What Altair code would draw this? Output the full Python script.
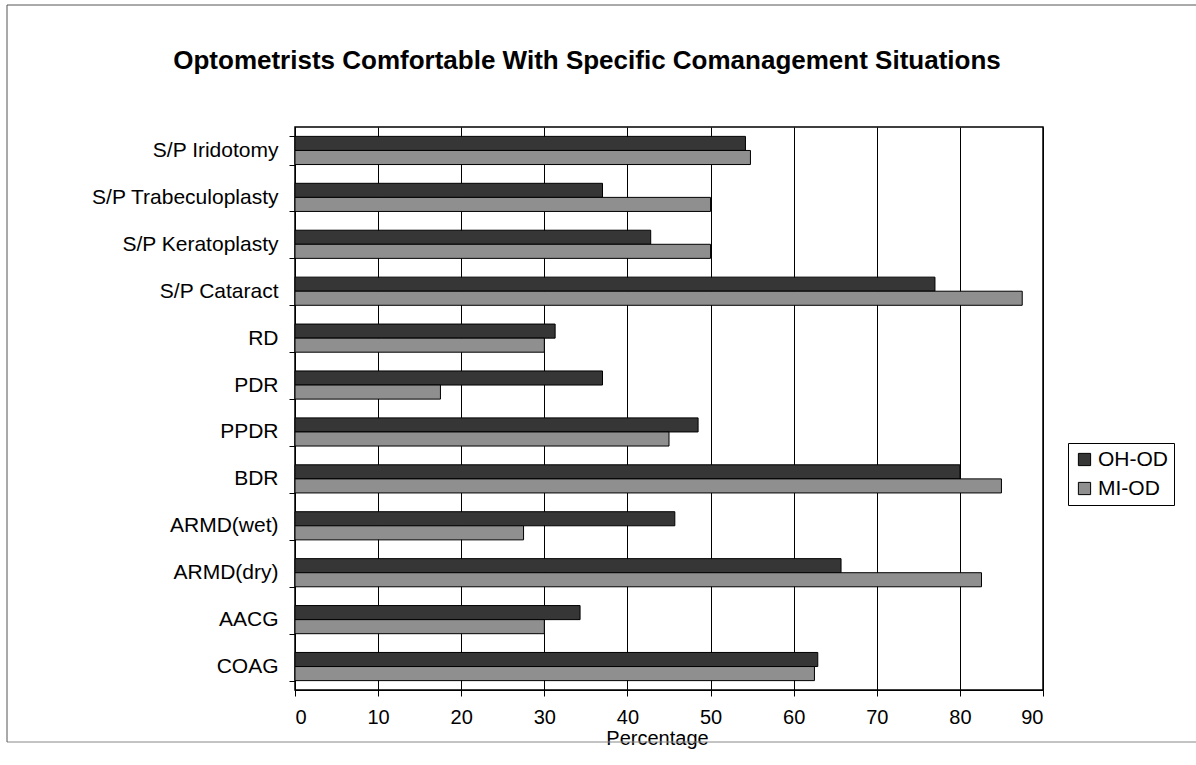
import altair as alt
import pandas as pd

# Comanagement situations, top to bottom as listed on the axis
situations = [
    "S/P Iridotomy", "S/P Trabeculoplasty", "S/P Keratoplasty", "S/P Cataract",
    "RD", "PDR", "PPDR", "BDR", "ARMD(wet)", "ARMD(dry)", "AACG", "COAG",
]
series = ["OH-OD", "MI-OD"]

# Percentage of optometrists comfortable, per group
oh_od = [54.2, 37.0, 42.8, 77.0, 31.3, 37.0, 48.5, 80.0, 45.7, 65.7, 34.3, 62.9]
mi_od = [54.8, 50.0, 50.0, 87.5, 30.0, 17.5, 45.0, 85.0, 27.5, 82.6, 30.0, 62.5]

x_ticks = [0, 10, 20, 30, 40, 50, 60, 70, 80, 90]

rows = []
for s, a, b in zip(situations, oh_od, mi_od):
    rows.append({"situation": s, "group": "OH-OD", "pct": a})
    rows.append({"situation": s, "group": "MI-OD", "pct": b})
df = pd.DataFrame(rows)

FONT = "Liberation Sans"
W, H = 748, 563

bars = alt.Chart(df).mark_bar(stroke="black", strokeWidth=1).encode(
    y=alt.Y(
        "situation:N",
        sort=situations,
        title=None,
        scale=alt.Scale(paddingInner=0.4, paddingOuter=0.2),
        axis=alt.Axis(
            tickBand="extent", tickSize=6, labelPadding=11, grid=False,
            labelFont=FONT, labelFontSize=21, labelColor="black",
            labelLimit=320,
            domainColor="black", tickColor="black",
        ),
    ),
    yOffset=alt.YOffset("group:N", sort=series),
    x=alt.X(
        "pct:Q",
        title="Percentage",
        scale=alt.Scale(domain=[0, 90], nice=False),
        axis=alt.Axis(
            values=x_ticks, tickSize=6, labelPadding=11, grid=True,
            gridColor="black", gridWidth=1, gridOpacity=1,
            labelFont=FONT, labelFontSize=20, labelColor="black",
            titleFont=FONT, titleFontSize=20, titleFontWeight="normal",
            titleColor="black", titlePadding=1, titleX=362,
            domainColor="black", tickColor="black",
        ),
    ),
    color=alt.Color(
        "group:N",
        sort=series,
        scale=alt.Scale(domain=series, range=["#363636", "#8f8f8f"]),
        legend=alt.Legend(
            title=None, orient="none", legendX=773, legendY=316,
            symbolType="square", symbolSize=150, symbolStrokeColor="black",
            symbolStrokeWidth=1, symbolOpacity=1,
            labelFont=FONT, labelFontSize=21, labelColor="black",
            strokeColor="black", fillColor="white", padding=6,
            rowPadding=7, labelOffset=3,
        ),
    ),
)

# thin frame around the whole figure
frame_top = alt.Chart().mark_rule(color="#555", strokeWidth=1).encode(
    x=alt.value(-288), x2=alt.value(901), y=alt.value(-122)
)
frame_bottom = alt.Chart().mark_rule(color="#888", strokeWidth=1).encode(
    x=alt.value(-288), x2=alt.value(901), y=alt.value(615)
)
frame_left = alt.Chart().mark_rule(color="#555", strokeWidth=1).encode(
    x=alt.value(-288), y=alt.value(-122), y2=alt.value(615)
)

chart = alt.layer(frame_top, frame_bottom, frame_left, bars).properties(
    width=W,
    height=H,
    title=alt.TitleParams(
        "Optometrists Comfortable With Specific Comanagement Situations",
        font=FONT, fontSize=26, fontWeight="bold", color="black",
        anchor="middle", frame="group", dx=-82, offset=-90,
        baseline="alphabetic",
    ),
    autosize=alt.AutoSizeParams(type="none"),
    padding={"left": 295, "top": 127, "right": 153, "bottom": 75},
    background="white",
).configure_view(stroke="black", strokeWidth=1.5)

chart.save("out.html", embed_options={"renderer": "svg", "actions": False})
